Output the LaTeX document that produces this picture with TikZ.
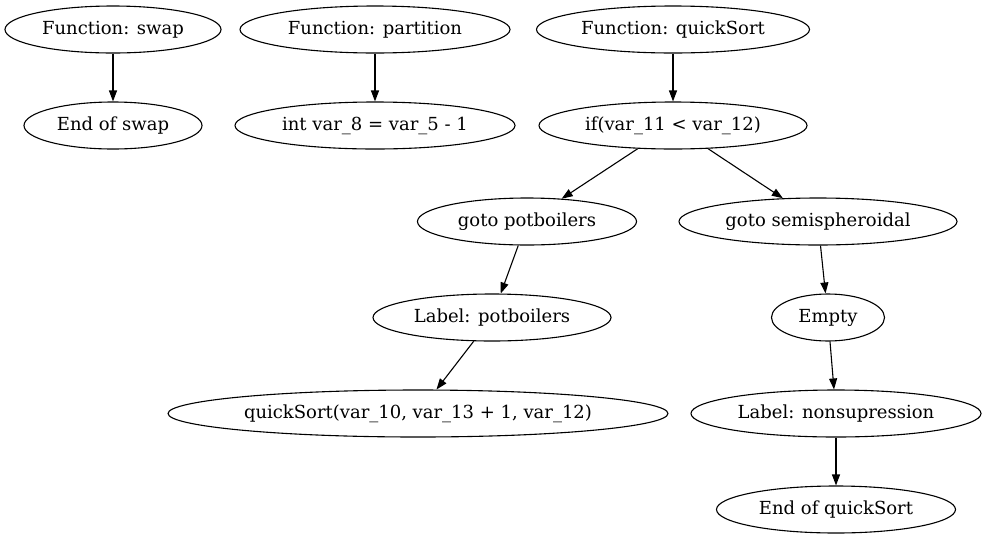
\documentclass[tikz,border=0pt]{standalone}
\usepackage{fontspec}
\setmainfont{DejaVu Serif}
\usetikzlibrary{shapes.geometric,arrows.meta}
\begin{document}
\begin{tikzpicture}[x=1pt,y=-1pt,
  ell/.style={draw,line width=1.1pt,ellipse,inner sep=0pt,minimum height=47pt,minimum width=#1,font=\fontsize{18}{20}\selectfont},
  edge/.style={draw,-{Triangle[length=11pt,width=8pt]},line width=1.1pt}]
\useasboundingbox (0,0) rectangle (989,539);
\begin{scope}[yshift=-1.5pt]
\node[ell=216pt] (fswap) at (113,28) {Function: swap};
\node[ell=178pt] (eswap) at (113,124) {End of swap};
\node[ell=270pt] (fpart) at (375,28) {Function: partition};
\node[ell=280pt] (ivar) at (375,124) {int var\_8 = var\_5 - 1};
\node[ell=273pt] (fqs) at (673,28) {Function: quickSort};
\node[ell=268pt] (ifn) at (673,124) {if(var\_11 < var\_12)};
\node[ell=219pt] (gpot) at (527,220) {goto potboilers};
\node[ell=278pt] (gsemi) at (818,220) {goto semispheroidal};
\node[ell=238pt] (lpot) at (492,316) {Label: potboilers};
\node[ell=113pt] (empty) at (828,316) {Empty};
\node[ell=500pt] (qscall) at (418,412) {quickSort(var\_10, var\_13 + 1, var\_12)};
\node[ell=290pt] (lnon) at (836,412) {Label: nonsupression};
\node[ell=239pt] (eqs) at (836,508) {End of quickSort};
\end{scope}
\draw[edge] (fswap) -- (eswap);
\draw[edge] (fpart) -- (ivar);
\draw[edge] (fqs) -- (ifn);
\draw[edge] (ifn) -- (gpot);
\draw[edge] (ifn) -- (gsemi);
\draw[edge] (gpot) -- (lpot);
\draw[edge] (lpot) -- (qscall);
\draw[edge] (gsemi) -- (empty);
\draw[edge] (empty) -- (lnon);
\draw[edge] (lnon) -- (eqs);
\end{tikzpicture}
\end{document}
